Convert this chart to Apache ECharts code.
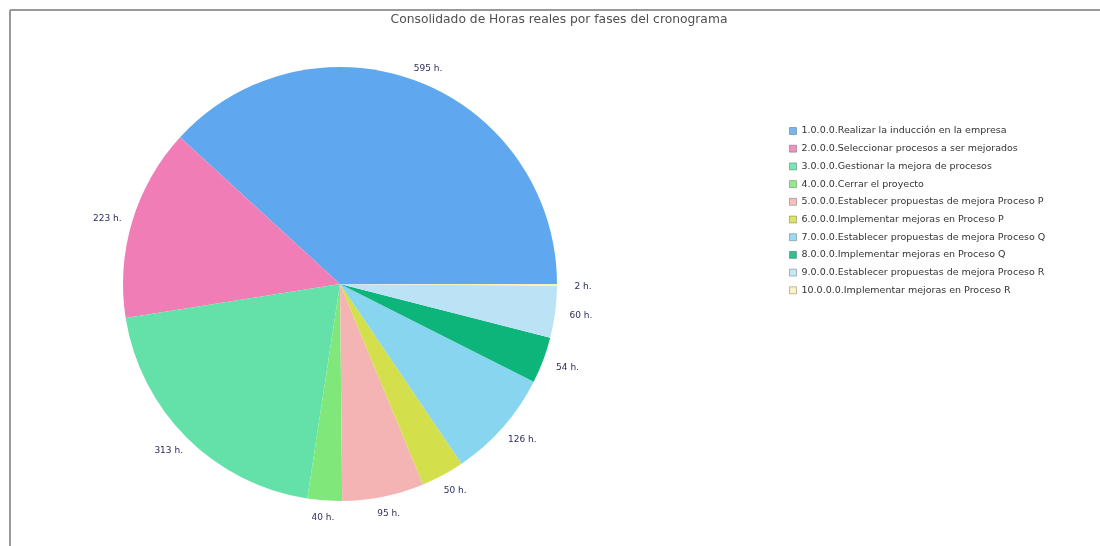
<!DOCTYPE html>
<html>
<head>
<meta charset="utf-8">
<script src="https://cdn.jsdelivr.net/npm/echarts@6/dist/echarts.min.js"></script>
<style>
html,body{margin:0;padding:0;background:#fff;}
#chart{width:1100px;height:546px;}
</style>
</head>
<body>
<div id="chart"></div>
<script>
var titleText = 'Consolidado de Horas reales por fases del cronograma';
var categories = [
  '1.0.0.0.Realizar la inducción en la empresa',
  '2.0.0.0.Seleccionar procesos a ser mejorados',
  '3.0.0.0.Gestionar la mejora de procesos',
  '4.0.0.0.Cerrar el proyecto',
  '5.0.0.0.Establecer propuestas de mejora Proceso P',
  '6.0.0.0.Implementar mejoras en Proceso P',
  '7.0.0.0.Establecer propuestas de mejora Proceso Q',
  '8.0.0.0.Implementar mejoras en Proceso Q',
  '9.0.0.0.Establecer propuestas de mejora Proceso R',
  '10.0.0.0.Implementar mejoras en Proceso R'
];
var hours = [595, 223, 313, 40, 95, 50, 126, 54, 60, 2];
var colors = ['#5fa8ef', '#f07db5', '#64e1a8', '#80e87b', '#f5b4b4', '#d4e04b', '#88d5ef', '#0db57a', '#bce2f6', '#fbf0b8'];

var CX = 340, CY = 284, R = 217;
var LABEL_RX = 243, LABEL_RY = 233, LABEL_DY = 1.5;

var chart = echarts.init(document.getElementById('chart'), null, {renderer: 'canvas'});
var data = categories.map(function (c, i) {
  return { name: c, value: hours[i], itemStyle: { color: colors[i] } };
});

// centre each label on an oval just outside the pie, along the slice's mid direction
function placeLabel(p) {
  var r = p.labelRect;
  var ax = p.align === 'right' ? r.x + r.width : r.x;
  var ay = r.y + r.height / 2;
  var vx = ax - CX, vy = ay - CY;
  var len = Math.sqrt(vx * vx + vy * vy) || 1;
  var ux = vx / len, uy = vy / len;
  return { x: CX + ux * LABEL_RX, y: CY + uy * LABEL_RY + LABEL_DY, align: 'center', verticalAlign: 'middle' };
}

chart.setOption({
  animation: false,
  backgroundColor: '#ffffff',
  legend: {
    orient: 'vertical',
    left: 784,
    top: 120,
    icon: 'rect',
    itemWidth: 7,
    itemHeight: 7,
    itemGap: 5.7,
    selectedMode: false,
    itemStyle: { borderWidth: 1, borderColor: 'rgba(0,0,0,0.3)', opacity: 0.85 },
    textStyle: { fontFamily: 'DejaVu Sans', fontSize: 9.5, color: '#333333', lineHeight: 12 },
    data: categories
  },
  graphic: [
    { type: 'line', shape: { x1: 10, y1: 10, x2: 1100, y2: 10 }, style: { stroke: '#999999', lineWidth: 2 } },
    { type: 'line', shape: { x1: 10, y1: 10, x2: 10, y2: 546 }, style: { stroke: '#999999', lineWidth: 2 } },
    { type: 'text', x: 559, y: 20, style: { text: titleText, align: 'center', verticalAlign: 'middle',
        font: '12.3px "DejaVu Sans"', fill: '#505050' } }
  ],
  series: [{
    type: 'pie',
    center: [CX, CY],
    radius: [0, R],
    startAngle: 0,
    clockwise: false,
    avoidLabelOverlap: false,
    silent: true,
    itemStyle: { borderWidth: 0 },
    label: {
      show: true,
      position: 'outside',
      formatter: '{c} h.',
      fontFamily: 'DejaVu Sans',
      fontSize: 9,
      color: '#2d2d5c',
      distanceToLabelLine: 0
    },
    labelLine: { show: false, length: 10, length2: 0 },
    labelLayout: placeLabel,
    data: data
  }]
});
</script>
</body>
</html>
